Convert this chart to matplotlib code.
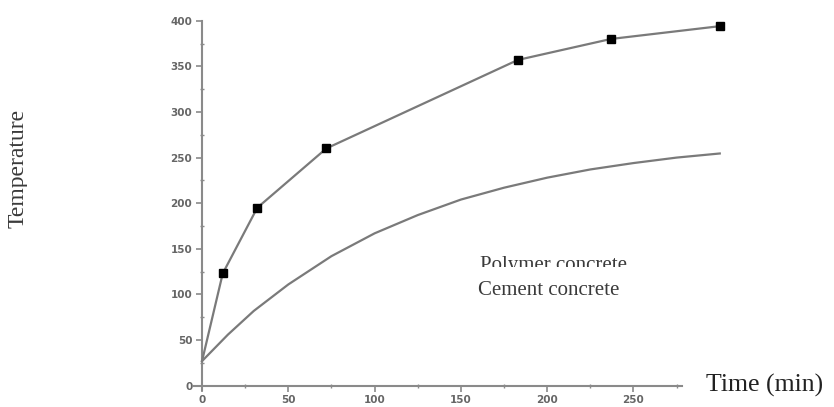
import matplotlib
matplotlib.use("Agg")
import matplotlib.pyplot as plt
from matplotlib.ticker import MultipleLocator
from matplotlib.transforms import Bbox

# Data
poly_t = [0, 12, 32, 72, 183, 237, 300]
poly_T = [27, 123, 195, 260, 357, 380, 394]
cem_t = [0, 15, 30, 50, 75, 100, 125, 150, 175, 200, 225, 250, 275, 300]
cem_T = [27, 56, 82, 111, 142, 167, 187, 204, 217, 228, 237, 244, 250, 254.5]
x_ticks = [0, 50, 100, 150, 200, 250]
y_ticks = [0, 50, 100, 150, 200, 250, 300, 350, 400]

W, H, DPI = 834, 407, 100
fig = plt.figure(figsize=(W / DPI, H / DPI), dpi=DPI)
ax = fig.add_axes([193.4 / W, 1 - 390.3 / H, (681.8 - 193.4) / W, (390.3 - 20.7) / H])
ax.set_xlim(-5, 278)
ax.set_ylim(-5, 400)

line_col = "#7a7a7a"
ax.plot(cem_t, cem_T, color=line_col, lw=1.6, clip_on=False, zorder=3)
ax.plot(poly_t, poly_T, color=line_col, lw=1.6, clip_on=False, zorder=3)
ax.plot(poly_t[1:], poly_T[1:], ls="none", marker="s", ms=6, color="black",
        clip_on=False, zorder=4)

for s in ["top", "right"]:
    ax.spines[s].set_visible(False)
ax.spines["left"].set_position(("data", 0))
ax.spines["bottom"].set_position(("data", 0))
for s in ["left", "bottom"]:
    ax.spines[s].set_color("#8a8a8a")
    ax.spines[s].set_linewidth(1.5)

ax.set_xticks(x_ticks)
ax.set_yticks(y_ticks)
ax.xaxis.set_minor_locator(MultipleLocator(25))
ax.yaxis.set_minor_locator(MultipleLocator(25))
ax.tick_params(which="major", direction="out", length=4, width=1.2, color="#8a8a8a",
               labelsize=7.5, labelcolor="#666666", pad=3)
ax.tick_params(which="minor", direction="inout", length=3, width=1.0, color="#8a8a8a")
for lab in ax.get_xticklabels() + ax.get_yticklabels():
    lab.set_fontweight("bold")
ax.patch.set_alpha(0)

serif = ["Liberation Serif", "DejaVu Serif"]
txtcol = "#3a3a3a"

# Axis titles placed as in the picture
fig.text(706 / W, 1 - 385 / H, "Time (min)", family=serif, fontsize=18.5,
         color="#222222", ha="left", va="center")
ty = fig.text(18 / W, 1 - 168 / H, "Temperature", family=serif, fontsize=17,
              color=txtcol, ha="center", va="center", rotation=90)
ty.set_clip_box(Bbox([[0, 0], [27, H]]))
ty.set_clip_on(True)

# Annotations
tp = fig.text(480 / W, 1 - 270 / H, "Polymer concrete", family=serif, fontsize=15,
              color=txtcol, ha="left", va="baseline")
tp.set_clip_box(Bbox([[0, H - 267], [W, H]]))
tp.set_clip_on(True)
fig.text(478 / W, 1 - 295 / H, "Cement concrete", family=serif, fontsize=15,
         color=txtcol, ha="left", va="baseline")

fig.savefig("out.png", dpi=DPI)
